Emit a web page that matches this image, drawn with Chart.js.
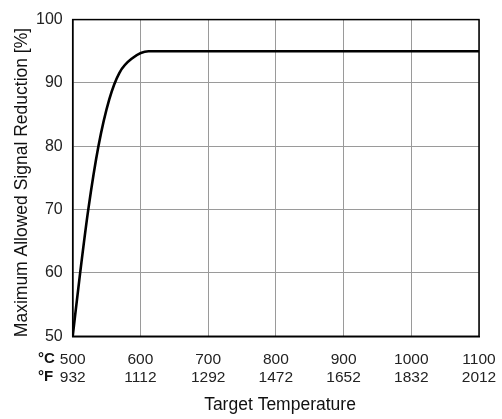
<!DOCTYPE html>
<html><head><meta charset="utf-8">
<script src="https://cdn.jsdelivr.net/npm/chart.js@4/dist/chart.umd.min.js"></script>
<style>html,body{margin:0;padding:0;background:#fff}#wrap{width:502px;height:419px;position:relative}</style>
</head><body><div id="wrap"><canvas id="c" width="502" height="419"></canvas></div>
<script>
const tempC = [500, 511, 523, 538, 554, 569, 588, 612, 1100];
const reduction = [50, 60, 70, 80, 87.4, 91.6, 93.9, 95, 95];
const tickC = [500, 600, 700, 800, 900, 1000, 1100];
const tickF = [932, 1112, 1292, 1472, 1652, 1832, 2012];
const yTicks = [50, 60, 70, 80, 90, 100];
const unitLabels = ['°C', '°F'];
const yTitle = 'Maximum Allowed Signal Reduction [%]';
const xTitle = 'Target Temperature';

const FONT = '"Liberation Sans", Arial, sans-serif';
const textPlugin = {
  id: 'texts',
  afterDraw(chart) {
    const ctx = chart.ctx;
    ctx.save();
    ctx.fillStyle = '#111';
    ctx.font = 'bold 15px ' + FONT;
    ctx.textAlign = 'left';
    ctx.textBaseline = 'middle';
    ctx.fillText(unitLabels[0], 38, 358.5);
    ctx.fillText(unitLabels[1], 38, 376.5);
    ctx.font = '17.5px ' + FONT;
    ctx.textAlign = 'center';
    ctx.fillText(xTitle, 280, 405);
    ctx.translate(22, 182.5);
    ctx.rotate(-Math.PI / 2);
    ctx.fillText(yTitle, 0, 0);
    ctx.restore();
  }
};

new Chart(document.getElementById('c'), {
  type: 'scatter',
  data: { datasets: [{
    data: tempC.map((t, i) => ({x: t, y: reduction[i]})),
    showLine: true, borderColor: '#000', borderWidth: 2.6,
    pointRadius: 0, cubicInterpolationMode: 'monotone', fill: false
  }]},
  options: {
    responsive: false, animation: false,
    layout: { padding: { left: 26, right: 0, top: 11.5, bottom: 18 } },
    plugins: { legend: { display: false }, tooltip: { enabled: false } },
    scales: {
      x: {
        type: 'linear', min: tickC[0], max: tickC[tickC.length - 1],
        afterBuildTicks(s) { s.ticks = tickC.map(v => ({value: v})); },
        afterFit(s) { s.paddingRight = 23; s.paddingLeft = 0; },
        grid: { color: '#9a9a9a', lineWidth: 1, drawTicks: false },
        border: { color: '#000', width: 1.5 },
        ticks: { color: '#222', font: { family: FONT, size: 15.5, lineHeight: 1.12 }, padding: 15, maxRotation: 0,
          callback: (v) => { const i = tickC.indexOf(v); return i < 0 ? '' : [String(tickC[i]), String(tickF[i])]; } },
        title: { display: false }
      },
      y: {
        min: yTicks[0], max: yTicks[yTicks.length - 1],
        afterBuildTicks(s) { s.ticks = yTicks.map(v => ({value: v})); },
        grid: { color: '#9a9a9a', lineWidth: 1, drawTicks: false },
        border: { color: '#000', width: 1.5 },
        ticks: { color: '#222', font: { family: FONT, size: 16 }, padding: 10 },
        title: { display: false }
      }
    }
  },
  plugins: [textPlugin, {
    id: 'box',
    afterDatasetsDraw(chart) {
      const a = chart.chartArea, ctx = chart.ctx;
      ctx.save(); ctx.strokeStyle = '#000'; ctx.lineWidth = 1.5;
      ctx.strokeRect(a.left, a.top, a.right - a.left, a.bottom - a.top);
      ctx.restore();
    }
  }]
});
</script></body></html>
